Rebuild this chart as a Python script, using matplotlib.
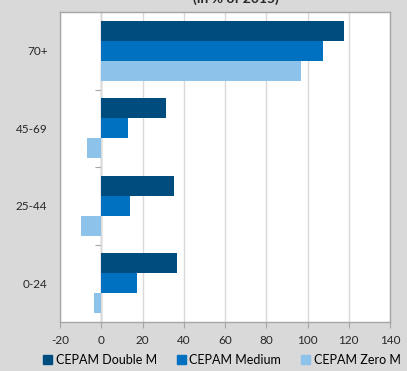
import numpy as np
import matplotlib
matplotlib.use('Agg')
import matplotlib.pyplot as plt
from matplotlib.patches import Patch

plt.rcParams['font.family'] = ['Lato', 'DejaVu Sans']

categories = ['0-24', '25-44', '45-69', '70+']
double_m = [36.7, 35.4, 31.5, 117.7]
medium = [17.3, 14.1, 13.1, 107.6]
zero_m = [-3.4, -9.9, -6.9, 96.7]
series_names = ['CEPAM Double M', 'CEPAM Medium', 'CEPAM Zero M']
colors = ['#004c7f', '#0070c0', '#8dc3eb']
xticks = [-20, 0, 20, 40, 60, 80, 100, 120, 140]

fig = plt.figure(figsize=(4.07, 3.71), dpi=100)
fig.patch.set_facecolor('#d9d9d9')
ax = fig.add_axes([60 / 407, 1 - 322 / 371, 330 / 407, 310 / 371])
ax.set_facecolor('white')

y = np.arange(len(categories))
h = 0.258
ax.barh(y + h, double_m, height=h, color=colors[0], zorder=3)
ax.barh(y, medium, height=h, color=colors[1], zorder=3)
ax.barh(y - h, zero_m, height=h, color=colors[2], zorder=3)

ax.set_xlim(-20, 140)
ax.set_ylim(-0.5, 3.5)
ax.set_xticks(xticks)
ax.set_xticklabels([str(t) for t in xticks], fontsize=8.5, color='#262626')
ax.set_yticks(y)
ax.set_yticklabels(categories, fontsize=8.5, color='#262626')
ax.tick_params(axis='y', length=0, pad=9)
ax.tick_params(axis='x', length=4, color='#a6a6a6', pad=5)
ax.grid(axis='x', color='#d9d9d9', linewidth=1, zorder=0)
ax.set_axisbelow(True)
for s in ax.spines.values():
    s.set_color('#a6a6a6')
    s.set_linewidth(1)

# category axis line at x=0 with tick marks between groups
sec = ax.secondary_yaxis(20 / 160)
sec.set_yticks([0.5, 1.5, 2.5])
sec.set_yticklabels([])
sec.tick_params(length=4, color='#a6a6a6')
sec.spines['left'].set_color('#a6a6a6')
sec.spines['left'].set_linewidth(1)

fig.text(236 / 407, 1 - 2.5 / 371, '(in % of 2015)', ha='center', va='baseline',
         fontsize=10, fontweight='bold', color='#262626')

handles = [Patch(color=c) for c in colors]
fig.legend(handles, series_names, loc='center', bbox_to_anchor=(222 / 407, 1 - 360 / 371),
           ncol=3, frameon=False, fontsize=9, handlelength=0.7, handleheight=0.7,
           handletextpad=0.3, columnspacing=1.6, borderaxespad=0)

fig.savefig('out.png', dpi=100, facecolor=fig.get_facecolor())
